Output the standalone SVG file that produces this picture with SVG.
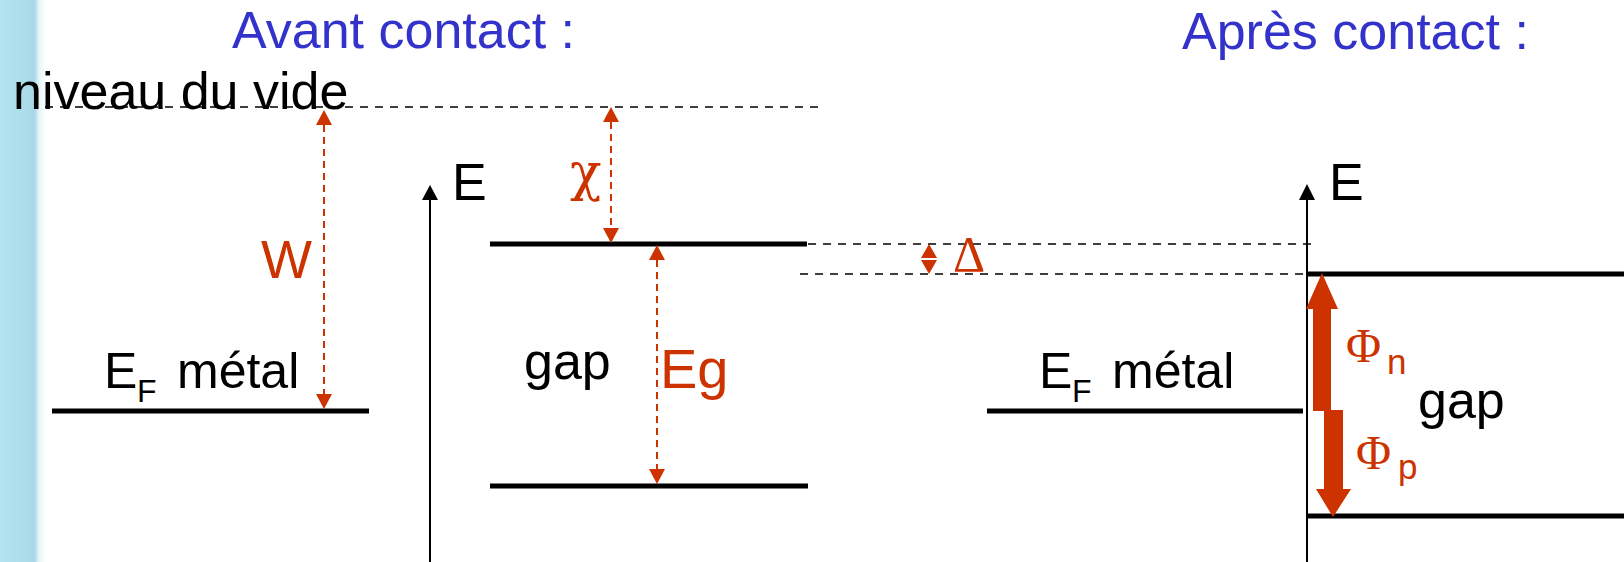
<svg xmlns="http://www.w3.org/2000/svg" width="1624" height="562" viewBox="0 0 1624 562">
<style>
.t{font-family:"Liberation Sans",Arial,sans-serif;fill:#000}
.title{font-family:"Liberation Sans",Arial,sans-serif;fill:#3333cc;font-size:52px}
.red{font-family:"Liberation Sans",Arial,sans-serif;fill:#cc3300}
.greek{font-family:"Liberation Serif","Times New Roman",serif;fill:#cc3300}
.band{stroke:#000;stroke-width:5;fill:none}
.dash{stroke:#000;stroke-width:1.6;stroke-dasharray:8 7;fill:none}
.axis{stroke:#000;stroke-width:2;fill:none}
.rdash{stroke:#cc3300;stroke-width:2;stroke-dasharray:7 5;fill:none}
</style>
<defs>
<linearGradient id="stripe" x1="0" y1="0" x2="1" y2="0">
<stop offset="0" stop-color="#b4e4f0"/>
<stop offset="0.75" stop-color="#a9d9e8"/>
<stop offset="0.85" stop-color="#e6f6fa"/>
<stop offset="1" stop-color="#ffffff"/>
</linearGradient>
<marker id="ar" viewBox="0 0 15 16" refX="0" refY="8" markerWidth="15" markerHeight="16" markerUnits="userSpaceOnUse" orient="auto-start-reverse">
<path d="M0,0 L15,8 L0,16 Z" fill="#cc3300"/>
</marker>
</defs>
<rect x="0" y="0" width="1624" height="562" fill="#fff"/>
<rect x="0" y="0" width="46" height="562" fill="url(#stripe)"/>

<g id="titles">
<text class="title" x="232" y="48">Avant contact :</text>
<text class="title" x="1182" y="49">Après contact :</text>
</g>

<g id="vacuum">
<line class="dash" x1="45" y1="107" x2="823" y2="107"/>
<text class="t" x="13" y="109" font-size="52">niveau du vide</text>
</g>

<g id="metal-left">
<line class="band" x1="52" y1="411" x2="369" y2="411"/>
<text class="t" x="104" y="388" font-size="50">E</text>
<text class="t" x="137" y="402" font-size="32">F</text>
<text class="t" x="177" y="388" font-size="50">métal</text>
</g>

<g id="axis-left">
<line class="axis" x1="430" y1="562" x2="430" y2="198"/>
<path d="M422,200 L430,185 L438,200 Z" fill="#000"/>
<text class="t" x="452" y="200" font-size="52">E</text>
</g>

<g id="semi-left">
<line class="band" x1="490" y1="244" x2="807" y2="244"/>
<line class="band" x1="490" y1="486" x2="808" y2="486"/>
<text class="t" x="524" y="379" font-size="52">gap</text>
</g>

<g id="metal-right">
<line class="band" x1="987" y1="411" x2="1303" y2="411"/>
<text class="t" x="1039" y="388" font-size="50">E</text>
<text class="t" x="1072" y="402" font-size="32">F</text>
<text class="t" x="1112" y="388" font-size="50">métal</text>
</g>

<g id="axis-right">
<line class="axis" x1="1307" y1="562" x2="1307" y2="198"/>
<path d="M1299,200 L1307,184 L1315,200 Z" fill="#000"/>
<text class="t" x="1329" y="200" font-size="52">E</text>
</g>

<g id="semi-right">
<line class="band" x1="1307" y1="274" x2="1624" y2="274"/>
<line class="band" x1="1307" y1="516" x2="1624" y2="516"/>
<text class="t" x="1418" y="418" font-size="52">gap</text>
</g>

<g id="connectors">
<line class="dash" x1="808" y1="244" x2="1318" y2="244"/>
<line class="dash" x1="800" y1="274" x2="1306" y2="274"/>
<line class="rdash" x1="324" y1="125" x2="324" y2="394" marker-start="url(#ar)" marker-end="url(#ar)"/>
<line class="rdash" x1="611" y1="122" x2="611" y2="228" marker-start="url(#ar)" marker-end="url(#ar)"/>
<line class="rdash" x1="657" y1="260" x2="657" y2="469" marker-start="url(#ar)" marker-end="url(#ar)"/>
<path d="M921,258 L929,244 L937,258 Z M921,260 L929,274 L937,260 Z" fill="#cc3300"/>
<path d="M1322,273 L1338,309 L1331,309 L1331,411 L1313,411 L1313,309 L1306,309 Z" fill="#cc3300"/>
<path d="M1324,410 L1343,410 L1343,489 L1351,489 L1333,517 L1316,489 L1324,489 Z" fill="#cc3300"/>
</g>

<g id="labels">
<text class="red" x="261" y="278" font-size="54">W</text>
<text x="570" y="190" font-size="52" fill="#cc3300" font-family="'DejaVu Serif',serif">χ</text>
<text class="red" x="660" y="388" font-size="56">Eg</text>
<text class="greek" x="953" y="271" font-size="50">Δ</text>
<text class="greek" x="1346" y="362" font-size="48">Φ</text>
<text class="red" x="1387" y="374" font-size="35">n</text>
<text class="greek" x="1356" y="469" font-size="48">Φ</text>
<text class="red" x="1398" y="479" font-size="35">p</text>
</g>
</svg>
